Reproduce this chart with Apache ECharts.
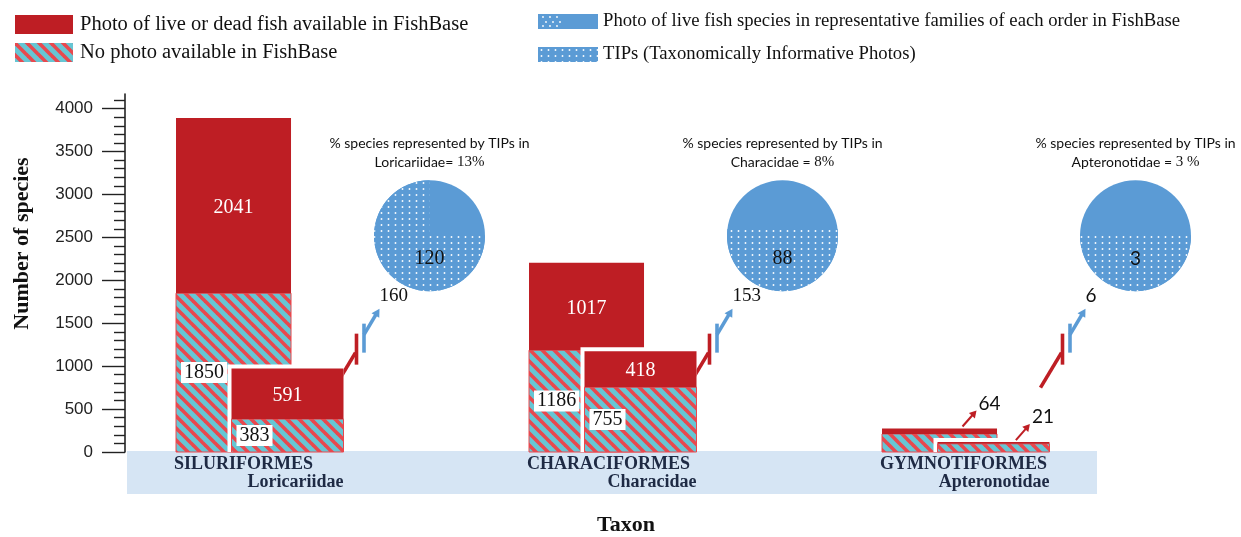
<!DOCTYPE html>
<html><head><meta charset="utf-8">
<script src="https://cdn.jsdelivr.net/npm/echarts@6/dist/echarts.min.js"></script>
<style>html,body{margin:0;padding:0;background:#fff}#c{width:1241px;height:537px}</style>
</head><body><div id="c"></div>
<script>
// ---------------- data ----------------
const orders = ['SILURIFORMES', 'CHARACIFORMES', 'GYMNOTIFORMES'];
const families = ['Loricariidae', 'Characidae', 'Apteronotidae'];
const orderPhoto = [2041, 1017, 64];
const orderNoPhoto = [1850, 1186, 210];
const familyPhoto = [591, 418, 21];
const familyNoPhoto = [383, 755, 95];
const familyLivePhoto = [160, 153, 6];
const familyTIPs = [120, 88, 3];
const tipsTitleFamily = ['Loricariidae= ', 'Characidae = ', 'Apteronotidae = '];
const tipsPercent = ['13%', '8%', '3 %'];
const pieShape = ['sector', 'level', 'level'];
const yTicks = [0, 500, 1000, 1500, 2000, 2500, 3000, 3500, 4000];

const PHOTO = 'Photo of live or dead fish available in FishBase';
const NO_PHOTO = 'No photo available in FishBase';
const LIVE = 'Photo of live fish species in representative families of each order in FishBase';
const TIPS = 'TIPs (Taxonomically Informative Photos)';

// ---------------- style / layout ----------------
const SERIF = "'Liberation Serif','Times New Roman',serif";
const SANS = "'Liberation Sans',Arial,sans-serif";
const CAL = "Lato,'Open Sans',sans-serif";
const C = {red:'#be1e24', cyan:'#66c6d4', stripe:'#e8484e', blue:'#5b9bd5', band:'#d6e5f4', navy:'#1e2a44', text:'#111'};
const L = {bigLeft:-0.3555, bigW:0.3258, smallLeft:-0.1983, smallW:0.3173, pieX:0.3626, pieYValue:2520, pieR:55.5, gap:4};
const numFont = [SERIF, SERIF, CAL];

function hatchPattern() {
  const s = 12, cv = document.createElement('canvas'); cv.width = cv.height = s;
  const g = cv.getContext('2d'); g.fillStyle = C.cyan; g.fillRect(0, 0, s, s);
  g.strokeStyle = C.stripe; g.lineWidth = 3.6;
  [-s, 0, s].forEach(o => { g.beginPath(); g.moveTo(o - 3, -3); g.lineTo(o + s + 3, s + 3); g.stroke(); });
  return {image: cv, repeat: 'repeat'};
}
function dotPattern() {
  const cv = document.createElement('canvas'); cv.width = 7; cv.height = 6;
  const g = cv.getContext('2d'); g.fillStyle = C.blue; g.fillRect(0, 0, 7, 6);
  g.fillStyle = 'rgba(255,255,255,0.95)'; g.beginPath(); g.arc(3.5, 3, 0.95, 0, Math.PI * 2); g.fill();
  return {image: cv, repeat: 'repeat'};
}
function liveIcon() {
  const cv = document.createElement('canvas'); cv.width = 60; cv.height = 15;
  const g = cv.getContext('2d'); g.fillStyle = C.blue; g.fillRect(0, 0, 60, 15);
  g.fillStyle = '#fff';
  [[5,3],[12,3],[19,3],[8,8],[15,8],[22,8],[5,12],[12,12],[19,12]].forEach(p => { g.beginPath(); g.arc(p[0], p[1], 0.9, 0, Math.PI*2); g.fill(); });
  return cv.toDataURL();
}
const HATCH = hatchPattern();
const DOTS = dotPattern();

function geom(api, i, which) {
  const c = api.coord([i, 0]); const bw = api.size([1, 0])[0];
  const left = c[0] + bw * (which === 'order' ? L.bigLeft : L.smallLeft);
  const width = bw * (which === 'order' ? L.bigW : L.smallW);
  return {left, width, y0: c[1]};
}
function pieCenter(api, i) {
  const c = api.coord([i, L.pieYValue]); const bw = api.size([1, 0])[0];
  return [c[0] + bw * L.pieX, c[1]];
}
function arrow(x1, y1, x2, y2, color, lw, hl, hw) {
  const dx = x2 - x1, dy = y2 - y1, len = Math.hypot(dx, dy), ux = dx / len, uy = dy / len, px = -uy, py = ux;
  const bx = x2 - ux * hl, by = y2 - uy * hl;
  return [
    {type:'line', shape:{x1, y1, x2: bx + ux, y2: by + uy}, style:{stroke: color, lineWidth: lw}},
    {type:'polygon', shape:{points:[[x2, y2], [bx + px * hw, by + py * hw], [bx - px * hw, by - py * hw]]}, style:{fill: color}}
  ];
}
function segArea(r, d) { return r * r * Math.acos(d / r) - d * Math.sqrt(r * r - d * d); }

// ---------------- render functions ----------------
function renderHatch(which) {
  return (params, api) => {
    const i = api.value(0), v = api.value(1), tot = v + api.value(2);
    const g = geom(api, i, which);
    const yt = api.coord([i, v])[1];
    const ch = [];
    if (which === 'family') {
      const ytot = api.coord([i, tot])[1];
      ch.push({type:'rect', shape:{x: g.left - L.gap, y: ytot - L.gap, width: g.width + L.gap, height: g.y0 - ytot + L.gap}, style:{fill:'#fff'}});
    }
    ch.push({type:'rect', shape:{x: g.left, y: yt, width: g.width, height: g.y0 - yt}, style:{fill: HATCH, stroke: C.stripe, lineWidth: 1}});
    return {type:'group', children: ch};
  };
}
function renderPhoto(which) {
  return (params, api) => {
    const i = api.value(0), base = api.value(1), v = api.value(2);
    const g = geom(api, i, which);
    const yb = api.coord([i, base])[1], yt = api.coord([i, base + v])[1];
    return {type:'rect', shape:{x: g.left, y: yt, width: g.width, height: yb - yt}, style:{fill: C.red}};
  };
}
function segLabels(api, i, which, noPhoto, photo, ch) {
  const g = geom(api, i, which);
  const y0 = g.y0, y1 = api.coord([i, noPhoto])[1], y2 = api.coord([i, noPhoto + photo])[1];
  if (y0 - y1 > 30) ch.push({type:'text', x: g.left + 5, y: (y0 + y1) / 2, style:{text: String(noPhoto), fontFamily: SERIF, fontSize: 20, fill: '#111', backgroundColor: '#fff', padding: [1, 3, 0, 3], align: 'left', verticalAlign: 'middle'}});
  if (y1 - y2 > 20) {
    ch.push({type:'text', x: g.left + g.width / 2, y: (y1 + y2) / 2 + 2, style:{text: String(photo), fontFamily: SERIF, fontSize: 20, fill: '#fff', align: 'center', verticalAlign: 'middle'}});
  } else {
    const sx = g.left + g.width * 0.7, sy = y2 - 2;
    arrow(sx, sy, sx + 14, sy - 16, C.red, 2, 7, 4).forEach(e => ch.push(e));
    ch.push({type:'text', x: sx + 16, y: sy - 23, style:{text: String(photo), fontFamily: numFont[i], fontSize: 19, fill: '#111', align: 'left', verticalAlign: 'middle'}});
  }
}
function renderLabels(params, api) {
  const i = api.value(0);
  const ch = [];
  segLabels(api, i, 'order', orderNoPhoto[i], orderPhoto[i], ch);
  segLabels(api, i, 'family', familyNoPhoto[i], familyPhoto[i], ch);
  const go = geom(api, i, 'order'), gf = geom(api, i, 'family');
  ch.push({type:'text', x: go.left - 2, y: go.y0 + 12, style:{text: orders[i], fontFamily: SERIF, fontWeight: 'bold', fontSize: 18, fill: C.navy, align: 'left', verticalAlign: 'middle'}});
  ch.push({type:'text', x: gf.left + gf.width, y: go.y0 + 30, style:{text: families[i], fontFamily: SERIF, fontWeight: 'bold', fontSize: 18, fill: C.navy, align: 'right', verticalAlign: 'middle'}});
  return {type:'group', children: ch};
}
function renderConnector(params, api) {
  const i = api.value(0);
  const [cx, cy] = pieCenter(api, i);
  const ch = [
    {type:'line', shape:{x1: cx - 95, y1: cy + 152, x2: cx - 74, y2: cy + 117}, style:{stroke: C.red, lineWidth: 3.6}},
    {type:'line', shape:{x1: cx - 73, y1: cy + 98, x2: cx - 73, y2: cy + 129}, style:{stroke: C.red, lineWidth: 3.6}},
    {type:'line', shape:{x1: cx - 65.5, y1: cy + 88, x2: cx - 65.5, y2: cy + 117}, style:{stroke: C.blue, lineWidth: 3.6}}
  ].concat(arrow(cx - 65.5, cy + 99, cx - 50, cy + 73, C.blue, 3.6, 8, 4.5));
  ch.push({type:'text', x: cx - 50, y: cy + 60, style:{text: String(api.value(1)), fontFamily: numFont[i], fontSize: 19, fill: '#111', align: 'left', verticalAlign: 'middle'}});
  return {type:'group', children: ch};
}
function renderLive(params, api) {
  const i = api.value(0);
  const [cx, cy] = pieCenter(api, i);
  return {type:'group', children: [
    {type:'circle', shape:{cx, cy, r: L.pieR}, style:{fill: C.blue}},
    {type:'text', x: cx, y: cy - 83, style:{
      text: '{a|% species represented by TIPs in}\n{a|' + tipsTitleFamily[i] + '}{b|' + tipsPercent[i] + '}',
      rich: {a:{fontFamily: CAL, fontSize: 14, lineHeight: 19, fill: '#111'}, b:{fontFamily: SERIF, fontSize: 15, lineHeight: 19, fill: '#111'}},
      align: 'center', verticalAlign: 'middle'}}
  ]};
}
function renderTips(params, api) {
  const i = api.value(0), tips = api.value(1), total = api.value(2);
  const [cx, cy] = pieCenter(api, i);
  const r = L.pieR, f = tips / total;
  let shape;
  if (pieShape[i] === 'sector') {
    const start = -Math.PI / 2 + 2 * Math.PI * (1 - f);
    shape = {type:'sector', shape:{cx, cy, r0: 0, r, startAngle: start, endAngle: 1.5 * Math.PI, clockwise: true}, style:{fill: DOTS}};
  } else {
    let lo = -r, hi = r;
    for (let k = 0; k < 60; k++) { const m = (lo + hi) / 2; if (segArea(r, m) > f * Math.PI * r * r) lo = m; else hi = m; }
    const d = (lo + hi) / 2, a = Math.asin(d / r);
    const pts = [];
    for (let k = 0; k <= 80; k++) { const t = a + (Math.PI - 2 * a) * k / 80; pts.push([cx + r * Math.cos(t), cy + r * Math.sin(t)]); }
    shape = {type:'polygon', shape:{points: pts}, style:{fill: DOTS}};
  }
  return {type:'group', children: [shape,
    {type:'text', x: cx, y: cy + 23, style:{text: String(tips), fontFamily: numFont[i], fontSize: i === 2 ? 19 : 20, fill: '#111', align: 'center', verticalAlign: 'middle'}}]};
}

// ---------------- chart ----------------
const chart = echarts.init(document.getElementById('c'), null, {renderer: 'canvas'});
const idx = orders.map((_, i) => i);
chart.setOption({
  animation: false,
  grid: {left: 125, right: 57, top: 94, bottom: 85},
  legend: [
    {orient: 'vertical', left: 10, top: 9, itemWidth: 58, itemHeight: 19, itemGap: 7, selectedMode: false, icon: 'rect',
     data: [PHOTO, NO_PHOTO], textStyle: {fontFamily: SERIF, fontSize: 20.5, color: '#111', padding: [0, 0, 0, 2]}},
    {orient: 'vertical', left: 533, top: 7, itemWidth: 60, itemHeight: 15, itemGap: 14, selectedMode: false, icon: 'rect',
     data: [{name: LIVE, icon: 'image://' + liveIcon()}, TIPS], textStyle: {fontFamily: SERIF, fontSize: 18.7, color: '#111', padding: [0, 0, 0, 0]}}
  ],
  xAxis: {type: 'category', data: orders, axisLine: {show: false}, axisTick: {show: false}, axisLabel: {show: false}},
  yAxis: {
    type: 'value', min: 0, max: 4170, interval: 500,
    axisLine: {show: true, lineStyle: {color: '#222', width: 1.6}},
    axisTick: {show: true, length: 23, lineStyle: {color: '#222', width: 1.4}, customValues: yTicks},
    minorTick: {show: true, splitNumber: 5, length: 11, lineStyle: {color: '#222', width: 1.4}},
    axisLabel: {customValues: yTicks, formatter: v => String(v), margin: 32, color: '#222', fontFamily: SANS, fontSize: 17},
    splitLine: {show: false}
  },
  graphic: [
    {type: 'rect', z: 0, shape: {x: 127, y: 451, width: 970, height: 43}, style: {fill: C.band}},
    {type: 'text', z: 5, x: 22, y: 243.5, rotation: Math.PI / 2, style: {text: 'Number of species', fontFamily: SERIF, fontWeight: 'bold', fontSize: 22, fill: '#111', align: 'center', verticalAlign: 'middle', textAlign: 'center', textVerticalAlign: 'middle'}},
    {type: 'text', z: 5, x: 626, y: 525, style: {text: 'Taxon', fontFamily: SERIF, fontWeight: 'bold', fontSize: 22, fill: '#111', align: 'center', verticalAlign: 'middle', textAlign: 'center', textVerticalAlign: 'middle'}}
  ],
  series: [
    {type: 'custom', name: 'connector', renderItem: renderConnector, data: idx.map(i => [i, familyLivePhoto[i]])},
    {type: 'custom', name: NO_PHOTO, itemStyle: {color: HATCH}, renderItem: renderHatch('order'), data: idx.map(i => [i, orderNoPhoto[i], orderPhoto[i]])},
    {type: 'custom', name: PHOTO, itemStyle: {color: C.red}, renderItem: renderPhoto('order'), data: idx.map(i => [i, orderNoPhoto[i], orderPhoto[i]])},
    {type: 'custom', name: NO_PHOTO, itemStyle: {color: HATCH}, renderItem: renderHatch('family'), data: idx.map(i => [i, familyNoPhoto[i], familyPhoto[i]])},
    {type: 'custom', name: PHOTO, itemStyle: {color: C.red}, renderItem: renderPhoto('family'), data: idx.map(i => [i, familyNoPhoto[i], familyPhoto[i]])},
    {type: 'custom', name: 'labels', renderItem: renderLabels, data: idx.map(i => [i, orderNoPhoto[i] + orderPhoto[i]])},
    {type: 'custom', name: LIVE, itemStyle: {color: C.blue}, renderItem: renderLive, data: idx.map(i => [i, familyLivePhoto[i]])},
    {type: 'custom', name: TIPS, itemStyle: {color: DOTS}, renderItem: renderTips, data: idx.map(i => [i, familyTIPs[i], familyLivePhoto[i]])}
  ]
});
</script></body></html>
